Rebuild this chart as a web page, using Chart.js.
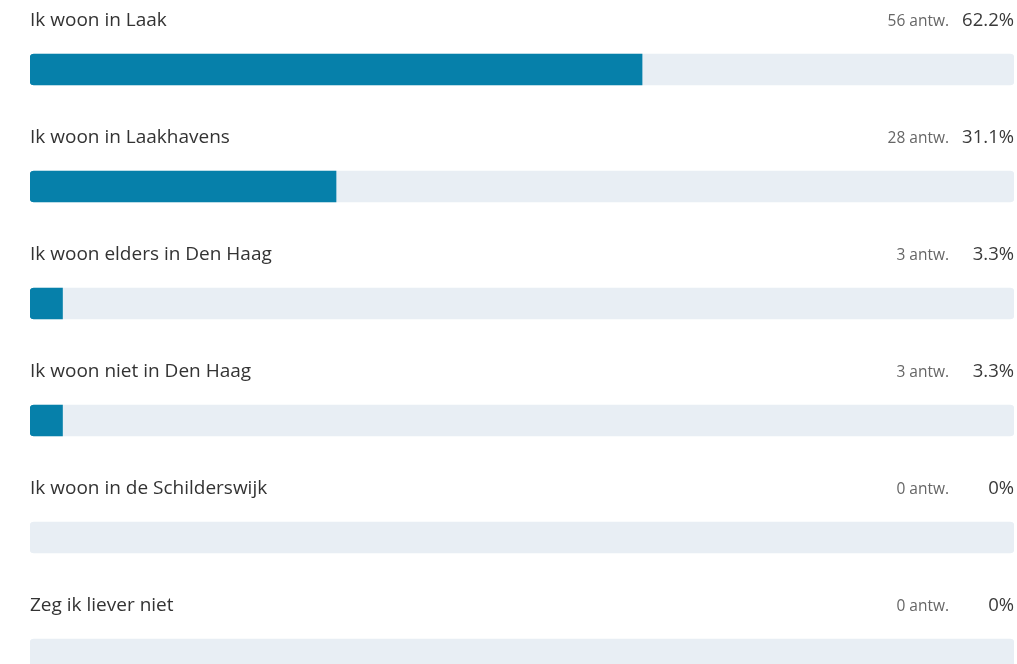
<!DOCTYPE html>
<html>
<head>
<meta charset="utf-8">
<script src="https://cdn.jsdelivr.net/npm/chart.js@4/dist/chart.umd.min.js"></script>
<style>
    html, body { margin: 0; padding: 0; background: #ffffff; overflow: hidden; }
    #wrap { position: absolute; left: 0; top: 0; width: 1017px; height: 720px; }
</style>
</head>
<body>
<div id="wrap"><canvas id="pollChart"></canvas></div>
<script>
// answers
const answers = [
    'Ik woon in Laak',
    'Ik woon in Laakhavens',
    'Ik woon elders in Den Haag',
    'Ik woon niet in Den Haag',
    'Ik woon in de Schilderswijk',
    'Zeg ik liever niet'
];
const counts = [56, 28, 3, 3, 0, 0];
const percentages = [62.2, 31.1, 3.3, 3.3, 0, 0];
const trackValues = [100, 100, 100, 100, 100, 100];

const FONT = '"Open Sans", "Noto Sans", sans-serif';

// draws the question text above each bar and the count / percentage on the right
const rowText = {
    id: 'rowText',
    afterDatasetsDraw(chart) {
        const ctx = chart.ctx;
        const meta = chart.getDatasetMeta(1);
        const left = chart.chartArea.left;
        const right = chart.chartArea.right;
        ctx.save();
        ctx.textBaseline = 'middle';
        meta.data.forEach((bar, i) => {
            const y = bar.y - 49;

            ctx.font = '19px ' + FONT;
            ctx.fillStyle = '#333333';
            ctx.textAlign = 'left';
            ctx.fillText(answers[i], left, y);

            ctx.textAlign = 'right';
            ctx.font = '18.5px ' + FONT;
            ctx.fillStyle = '#3a3a3a';
            ctx.fillText(percentages[i] + '%', right, y);

            ctx.font = '15.5px ' + FONT;
            ctx.fillStyle = '#666666';
            ctx.fillText(counts[i] + ' antw.', right - 65, y + 1);
        });
        ctx.restore();
    }
};

new Chart(document.getElementById('pollChart'), {
    type: 'bar',
    data: {
        labels: answers,
        datasets: [
            {
                // filled part
                data: percentages,
                backgroundColor: ctx => ctx.raw > 0 ? '#0680aa' : 'rgba(0,0,0,0)',
                borderWidth: 0,
                borderSkipped: false,
                borderRadius: { topLeft: 4, bottomLeft: 4, topRight: 0, bottomRight: 0 },
                barThickness: 31,
                grouped: false,
                order: 1
            },
            {
                // background track
                data: trackValues,
                backgroundColor: '#e8eef4',
                borderWidth: 0,
                borderSkipped: false,
                borderRadius: 4,
                barThickness: 31,
                grouped: false,
                order: 2
            }
        ]
    },
    options: {
        indexAxis: 'y',
        responsive: true,
        maintainAspectRatio: false,
        animation: false,
        layout: { padding: { left: 30, right: 3, top: 11, bottom: 7 } },
        scales: {
            x: { display: false, min: 0, max: 100 },
            y: { display: false }
        },
        plugins: {
            legend: { display: false },
            tooltip: { enabled: false }
        }
    },
    plugins: [rowText]
});
</script>
</body>
</html>
